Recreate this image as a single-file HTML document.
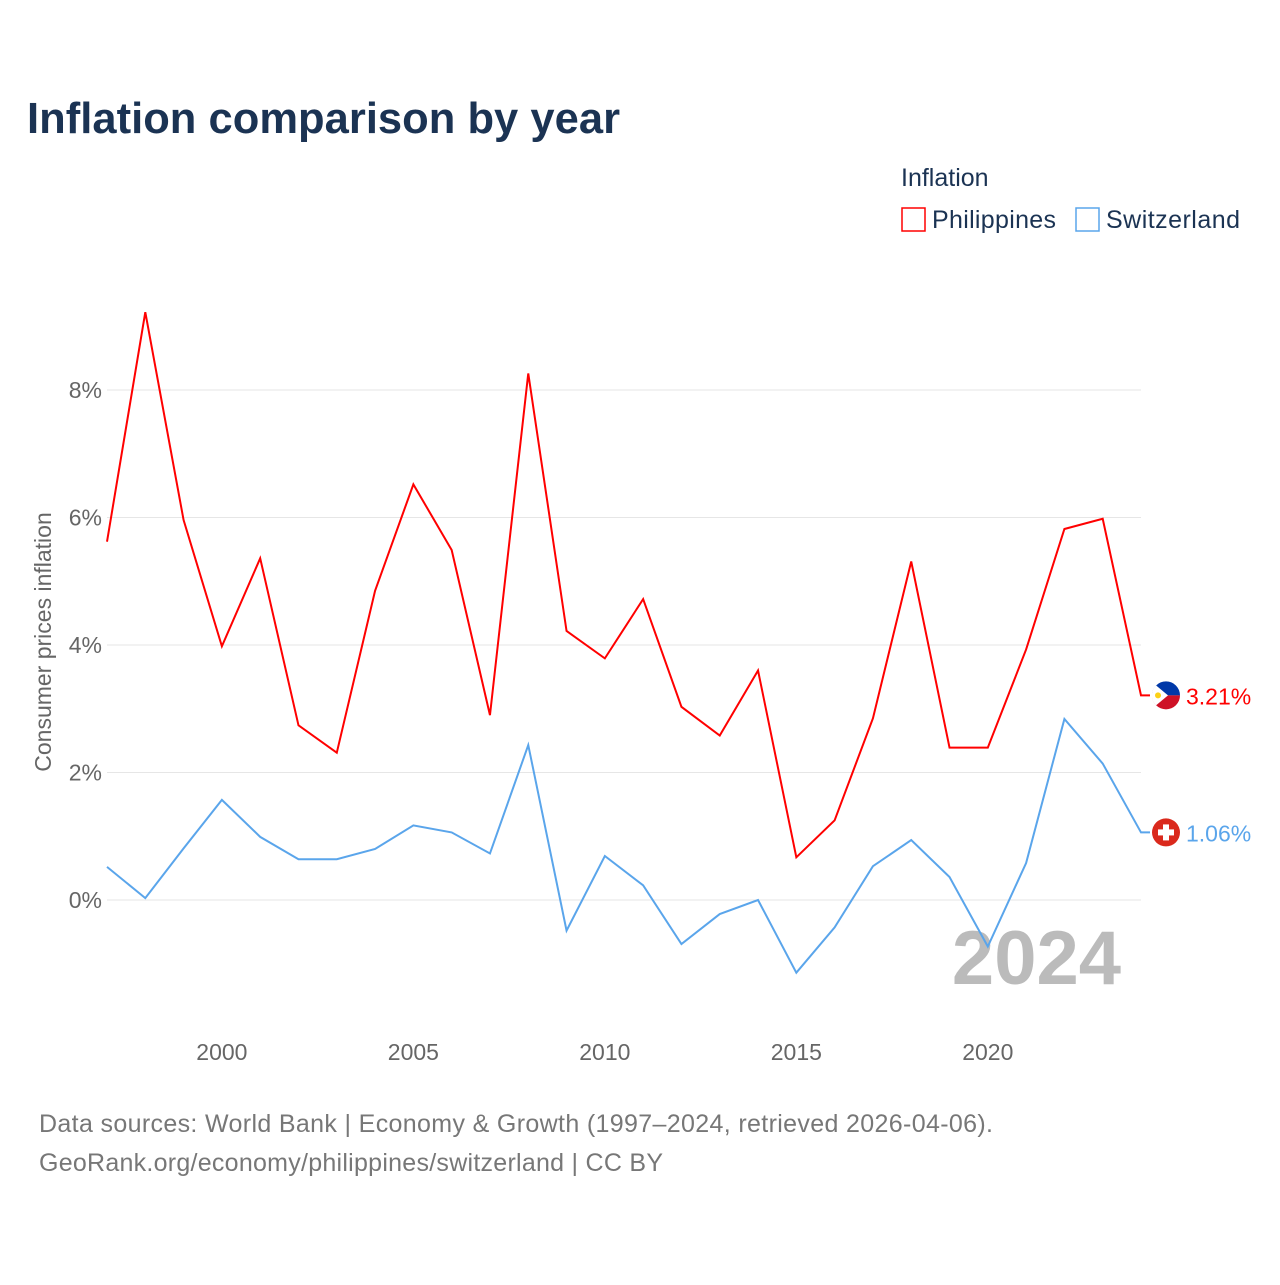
<!DOCTYPE html>
<html><head><meta charset="utf-8"><style>
body{margin:0;background:#fff;font-family:"Liberation Sans",sans-serif}
svg text{font-family:"Liberation Sans",sans-serif}
</style></head><body>
<svg width="1280" height="1280" viewBox="0 0 1280 1280">
<text x="27" y="133" font-size="43.5" font-weight="bold" fill="#1b3353" textLength="593">Inflation comparison by year</text>
<g>
<text x="901" y="186" font-size="25" fill="#1b3353">Inflation</text>
<g><rect x="902" y="208" width="23" height="23" fill="none" stroke="#f00" stroke-width="1.5"/><text x="932" y="228" font-size="25" fill="#1b3353" textLength="124">Philippines</text></g>
<g><rect x="1076" y="208" width="23" height="23" fill="none" stroke="#5aa5eb" stroke-width="1.5"/><text x="1106" y="228" font-size="25" fill="#1b3353" textLength="134">Switzerland</text></g>
</g>
<g id="grid"></g>
<g id="yt"></g>
<g id="xt"></g>
<text transform="translate(51,642) rotate(-90)" text-anchor="middle" font-size="23" fill="#666">Consumer prices inflation</text>
<text x="1121" y="984" text-anchor="end" font-size="76" font-weight="bold" fill="#bbb">2024</text>
<g id="series"></g>
<g font-size="25" fill="#777">
<text x="39" y="1132" textLength="954">Data sources: World Bank | Economy &amp; Growth (1997–2024, retrieved 2026-04-06).</text>
<text x="39" y="1171" textLength="624">GeoRank.org/economy/philippines/switzerland | CC BY</text>
</g>
</svg>
<script>
const years=[1997,1998,1999,2000,2001,2002,2003,2004,2005,2006,2007,2008,2009,2010,2011,2012,2013,2014,2015,2016,2017,2018,2019,2020,2021,2022,2023,2024];
const philippines=[5.62,9.22,5.96,3.98,5.36,2.74,2.31,4.85,6.52,5.49,2.90,8.26,4.22,3.79,4.72,3.03,2.58,3.60,0.67,1.25,2.85,5.31,2.39,2.39,3.93,5.82,5.98,3.21];
const switzerland=[0.52,0.03,0.81,1.57,0.99,0.64,0.64,0.80,1.17,1.06,0.73,2.43,-0.48,0.69,0.23,-0.69,-0.22,0.0,-1.14,-0.43,0.53,0.94,0.36,-0.73,0.58,2.84,2.14,1.06];
const yTicks=[0,2,4,6,8];
const xTicks=[2000,2005,2010,2015,2020];
const NS="http://www.w3.org/2000/svg";
const x=y=>107+(y-1997)*(1141-107)/27;
const yv=v=>900-v*63.75;
function mk(t,a,p){const e=document.createElementNS(NS,t);for(const k in a)e.setAttribute(k,a[k]);p.appendChild(e);return e;}
const grid=document.getElementById('grid'),yt=document.getElementById('yt'),xt=document.getElementById('xt'),ser=document.getElementById('series');
yTicks.forEach(t=>{
const l=mk('line',{x1:107,x2:1141,y1:yv(t),y2:yv(t),stroke:'#e6e6e6','stroke-width':1},grid);


const tx=mk('text',{x:102,y:yv(t)+8,'text-anchor':'end','font-size':23,fill:'#666'},yt);tx.textContent=t+'%';


});
xTicks.forEach(t=>{
const tx=mk('text',{x:x(t),y:1060,'text-anchor':'middle','font-size':23,fill:'#666'},xt);tx.textContent=t;


});
function line(vals,color,name,lab){
const pts=vals.map((v,i)=>x(years[i])+','+yv(v)).join(' ');
const last=vals[vals.length-1];
const p=mk('polyline',{points:pts+' '+(x(2024)+9)+','+yv(last),fill:'none',stroke:color,'stroke-width':2,'stroke-linejoin':'miter'},ser);


const t=mk('text',{x:1186,y:yv(last)+9,'font-size':23,fill:color},ser);t.textContent=lab;


return yv(last);
}
const py=line(philippines,'#f00','philippines',philippines[27].toFixed(2)+'%');
const sy=line(switzerland,'#5aa5eb','switzerland',switzerland[27].toFixed(2)+'%');
const f1=mk('g',{},ser);


mk('path',{d:`M1152,${py} a14,14 0 0 1 28,0 z`,fill:'#0038a8'},f1);
mk('path',{d:`M1152,${py} a14,14 0 0 0 28,0 z`,fill:'#ce1126'},f1);
mk('path',{d:`M1156,${py-10} L1168,${py} L1156,${py+10} a14,14 0 0 1 0,-20z`,fill:'#fff'},f1);
mk('circle',{cx:1158,cy:py,r:3,fill:'#fcd116'},f1);
const f2=mk('g',{},ser);


mk('circle',{cx:1166,cy:sy,r:14,fill:'#da291c'},f2);
mk('rect',{x:1163,y:sy-8,width:6,height:16,fill:'#fff'},f2);
mk('rect',{x:1158,y:sy-3,width:16,height:6,fill:'#fff'},f2);
</script>
</body></html>
